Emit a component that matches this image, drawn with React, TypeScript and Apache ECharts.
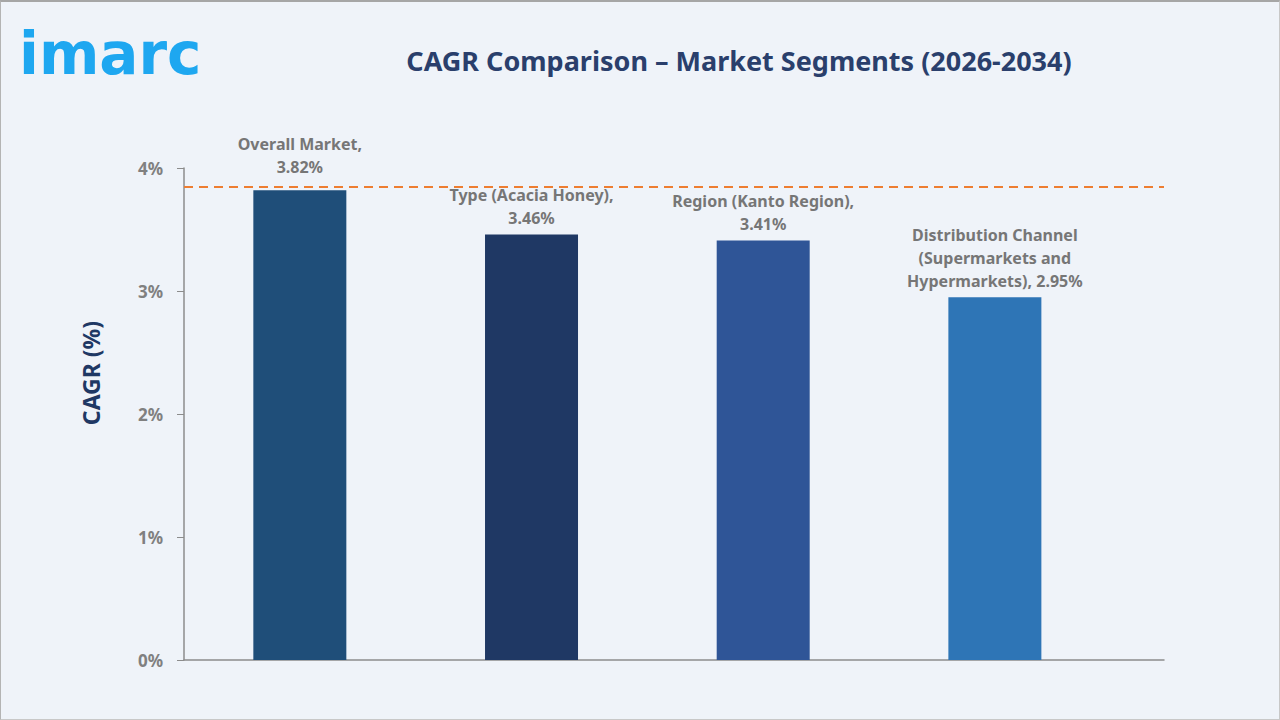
import * as React from "react";
import * as echarts from "echarts";

// Segment CAGR comparison — four bars with an orange dashed reference line.
const segments = [
  "Overall Market,",
  "Type (Acacia Honey),",
  "Region (Kanto Region),",
  "Distribution Channel\n(Supermarkets and\nHypermarkets),",
];
const cagrValues = [3.82, 3.46, 3.41, 2.95];
const barColors = ["#1f4e79", "#1f3864", "#2f5597", "#2e75b6"];
const yTicks = [0, 1, 2, 3, 4];
const referenceLine = 3.855;

const FONT = "'Noto Sans', sans-serif";

export default function App() {
  const ref = React.useRef<HTMLDivElement | null>(null);

  React.useEffect(() => {
    document.body.style.margin = "0";
    if (!ref.current) return;
    const chart = echarts.init(ref.current, undefined, { renderer: "svg" });

    chart.setOption({
      animation: false,
      backgroundColor: "#eff3f9",
      textStyle: { fontFamily: FONT },
      graphic: [
        {
          type: "text",
          left: 18,
          top: 23,
          style: {
            text: "imarc",
            fontFamily: "'DejaVu Sans', sans-serif",
            fontWeight: 700,
            fontSize: 58,
            fill: "#1ea7f0",
          },
        },
        {
          type: "text",
          x: 90,
          y: 371,
          rotation: Math.PI / 2,
          style: {
            text: "CAGR (%)",
            align: "center",
            verticalAlign: "middle",
            fontFamily: FONT,
            fontWeight: 700,
            fontSize: 23,
            fill: "#1f3864",
          },
        },
      ],
      title: {
        text: "CAGR Comparison – Market Segments (2026-2034)",
        left: 733,
        textAlign: "center",
        top: 40,
        textStyle: {
          fontFamily: FONT,
          fontWeight: 700,
          fontSize: 27,
          color: "#2a3f6c",
        },
      },
      grid: { left: 183, right: 115, top: 166, bottom: 59, containLabel: false },
      xAxis: {
        type: "value",
        min: -0.5,
        max: 3.73,
        axisLine: { show: true, onZero: false, lineStyle: { color: "#8c8c8c", width: 1.5 } },
        axisTick: { show: false },
        axisLabel: { show: false },
        splitLine: { show: false },
      },
      yAxis: {
        type: "value",
        min: yTicks[0],
        max: yTicks[yTicks.length - 1],
        interval: 1,
        axisLine: { show: true, onZero: false, lineStyle: { color: "#8c8c8c", width: 1.5 } },
        axisTick: { show: true, length: 7, lineStyle: { color: "#8c8c8c" } },
        axisLabel: {
          formatter: "{value}%",
          margin: 21,
          fontFamily: FONT,
          fontWeight: 700,
          fontSize: 17,
          color: "#808080",
        },
        splitLine: { show: false },
      },
      series: [
        {
          type: "bar",
          barWidth: 93,
          data: cagrValues.map((v, i) => ({
            value: [i, v],
            itemStyle: { color: barColors[i] },
            label: { distance: i === 0 ? 12 : 5 },
          })),
          label: {
            show: true,
            position: "top",
            fontFamily: FONT,
            fontWeight: 700,
            fontSize: 16,
            lineHeight: 23,
            color: "#767676",
            align: "center",
            formatter: (p: { dataIndex: number }) => {
              const i = p.dataIndex;
              const name = segments[i];
              const val = cagrValues[i].toFixed(2) + "%";
              return i === 3 ? `${name} ${val}` : `${name}\n${val}`;
            },
          },
          markLine: {
            silent: true,
            symbol: "none",
            label: { show: false },
            lineStyle: { color: "#ed7d31", type: [9, 6], width: 2 },
            data: [{ yAxis: referenceLine }],
          },
        },
      ],
    });

    return () => {
      chart.dispose();
    };
  }, []);

  return (
    <div
      style={{
        width: 1280,
        height: 720,
        boxSizing: "border-box",
        borderTop: "2px solid #a6a6a6",
        borderLeft: "1px solid #b4b4b4",
        borderRight: "1px solid #c8c8c8",
        borderBottom: "1px solid #c8c8c8",
        background: "#eff3f9",
      }}
    >
      <div ref={ref} style={{ width: "100%", height: "100%" }} />
    </div>
  );
}
